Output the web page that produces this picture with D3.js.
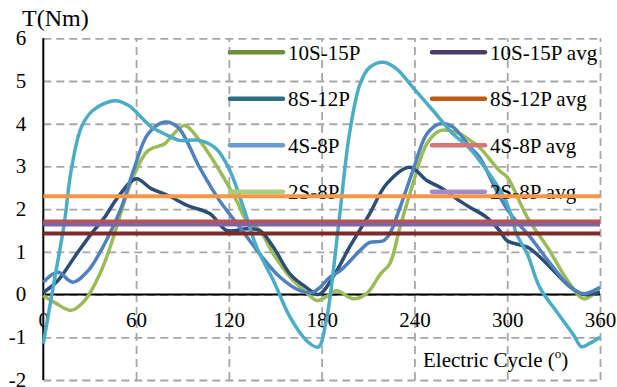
<!DOCTYPE html>
<html>
<head>
<meta charset="utf-8">
<script src="https://cdn.jsdelivr.net/npm/d3@7"></script>
<style>
  body { margin: 0; background: #fff; }
</style>
</head>
<body>
<svg id="chart" width="617" height="387" font-family="Liberation Serif" font-size="21"></svg>
<script>
// torque curves, [electric angle (deg), torque (Nm)]
var cyanCurve = [[0,-1.15],[7,0.3],[13.5,1.65],[18,2.9],[24.6,3.92],[32,4.31],[46,4.54],[55,4.43],[70,3.92],
  [78.5,3.76],[88,3.61],[101,3.61],[112,3.41],[120.7,2.9],[129.4,2.04],[138,1.11],[148.8,0.33],[159.6,-0.53],
  [170.3,-1.08],[177.8,-1.23],[183,-0.61],[186,0.1],[192,1.97],[198,3.77],[204.8,4.93],[211,5.32],[220,5.44],
  [228.6,5.28],[239,4.85],[252,4.31],[265,3.76],[275,3.45],[287,2.9],[298,2.28],[303,1.81],[306,1.42],
  [313,0.95],[321,0.17],[332,-0.4],[343,-0.95],[348,-1.22],[353,-1.15],[360,-1.0]];
var blueCurve = [[0,0.29],[9.5,0.52],[19,0.29],[29,0.56],[41.8,1.34],[50.5,2.04],[59,2.98],[67.7,3.76],
  [78.5,4.04],[87,3.92],[101,2.98],[114,2.2],[127,1.58],[140,0.95],[153,0.41],[166,0.09],[174,0.05],[179,0.17],
  [185,0.4],[192,0.56],[204.8,1.03],[211,1.22],[220,1.26],[224,1.42],[230.7,2.04],[239,2.9],[248,3.76],
  [256.6,4.0],[265,3.92],[276,3.45],[282,3.22],[293,2.44],[302,1.89],[315,1.34],[328,0.72],[341,0.17],
  [349.6,0.02],[360,0.17]];
var greenCurve = [[0,-0.02],[8,-0.2],[18,-0.37],[26.7,-0.14],[37.5,0.56],[46,1.42],[52.6,2.2],[59,2.83],
  [67.7,3.37],[78.5,3.53],[84,3.75],[91.5,3.96],[101,3.61],[114,2.9],[125,2.2],[131.5,1.73],[140,1.5],
  [148.8,0.95],[159.6,0.41],[170,0.05],[177,-0.14],[183,-0.05],[189.7,0.09],[200.5,-0.1],[209,0.02],[218,0.48],
  [224,0.72],[230.7,1.58],[239,2.59],[248,3.53],[256.6,3.84],[267,3.8],[276,3.61],[282,3.45],[295,2.9],
  [300,2.75],[313,1.81],[326,1.11],[339,0.33],[349.6,-0.1],[359,0.09],[360,0.1]];
var navyCurve = [[0,0.05],[9.5,0.33],[20,0.87],[31,1.42],[39.7,1.81],[48.3,2.28],[60,2.71],[69.8,2.48],
  [80.6,2.32],[93.6,2.08],[107.8,1.89],[118.6,1.5],[131.5,1.54],[140,1.5],[148.8,1.11],[159.6,0.48],[170,0.17],
  [178,0.0],[188,0.45],[198,1.11],[211,1.89],[222,2.59],[237,2.98],[248,2.67],[256.6,2.51],[269,2.2],[276,2.04],
  [286.7,1.81],[295,1.5],[300,1.26],[313,1.11],[319,0.95],[330,0.56],[341,0.17],[350,0.0],[360,0.05]];

// average torque lines
var avgValues = [2.30, 1.71, 1.64, 1.43];
var avgColors = ["#f79646", "#c0504d", "#8064a2", "#7b2c2a"];

// legend
var legendLabels = ["10S-15P", "10S-15P avg", "8S-12P", "8S-12P avg", "4S-8P", "4S-8P avg", "2S-8P", "2S-8P avg"];
var legendColors = ["#6e8d3b", "#4a3b68", "#2f6f7f", "#bf5a10", "#6c9bd2", "#d57577", "#a9cf7c", "#a28bc6"];

var xTicks = [0, 60, 120, 180, 240, 300, 360];
var yTicks = [-2, -1, 0, 1, 2, 3, 4, 5, 6];

var svg = d3.select("#chart");
var x = d3.scaleLinear().domain([0, 360]).range([43.3, 600]);
var y = d3.scaleLinear().domain([-2, 6]).range([380, 38.3]);

// grid (dashed)
svg.append("g")
  .attr("transform", "translate(" + x(0) + ",0)")
  .call(d3.axisLeft(y).tickValues(yTicks).tickSize(-(x(360) - x(0))).tickFormat(""))
  .call(function(g) { g.select(".domain").remove(); })
  .selectAll("line").attr("stroke", "#a6a6a6").attr("stroke-width", 1.8).attr("stroke-dasharray", "8,5");
svg.append("g")
  .attr("transform", "translate(0," + y(-2) + ")")
  .call(d3.axisBottom(x).tickValues(xTicks.slice(1)).tickSize(-(y(-2) - y(6))).tickFormat(""))
  .call(function(g) { g.select(".domain").remove(); })
  .selectAll("line").attr("stroke", "#a6a6a6").attr("stroke-width", 1.8).attr("stroke-dasharray", "8,5");

// tick labels (plain hyphen for negatives, like the original)
var yLab = svg.append("g")
  .attr("transform", "translate(" + x(0) + ",0)")
  .call(d3.axisLeft(y).tickValues(yTicks).tickSize(0).tickPadding(17).tickFormat(function(d) { return String(d); }));
yLab.select(".domain").remove();
yLab.attr("font-size", null).attr("font-family", null);
yLab.selectAll("text").attr("dy", "0.3em");

var xLab = svg.append("g")
  .attr("transform", "translate(0," + y(0) + ")")
  .call(d3.axisBottom(x).tickValues(xTicks).tickSize(0).tickPadding(18).tickFormat(function(d) { return String(d); }));
xLab.select(".domain").remove();
xLab.attr("font-size", null).attr("font-family", null);

// axis lines
svg.append("line").attr("x1", x(0)).attr("x2", x(0)).attr("y1", y(6)).attr("y2", y(-2))
  .attr("stroke", "#000").attr("stroke-width", 2);
svg.append("line").attr("x1", x(0)).attr("x2", x(360)).attr("y1", y(0)).attr("y2", y(0))
  .attr("stroke", "#000").attr("stroke-width", 2);

// curves
var line = d3.line()
  .x(function(d) { return x(d[0]); })
  .y(function(d) { return y(d[1]); })
  .curve(d3.curveCatmullRom.alpha(0.5));

var curves = [
  { pts: greenCurve, color: "#9bbb59" },
  { pts: navyCurve, color: "#2c4d75" },
  { pts: blueCurve, color: "#4f81bd" },
  { pts: cyanCurve, color: "#4bacc6" }
];
curves.forEach(function(c) {
  svg.append("path").datum(c.pts)
    .attr("d", line)
    .attr("fill", "none")
    .attr("stroke", c.color)
    .attr("stroke-width", 3.5)
    .attr("stroke-linejoin", "round");
});

// legend (avg lines are drawn over it)
var legRowY = function(i) { return 52.3 + i * 46.5; };
legendLabels.forEach(function(lbl, i) {
  var col = i % 2, row = Math.floor(i / 2);
  var lx = col === 0 ? 230 : 432;
  svg.append("line")
    .attr("x1", lx).attr("x2", lx + 53)
    .attr("y1", legRowY(row)).attr("y2", legRowY(row))
    .attr("stroke", legendColors[i]).attr("stroke-width", 4.5).attr("stroke-linecap", "round");
  svg.append("text")
    .attr("x", lx + 58).attr("y", legRowY(row) + 7.5)
    .text(lbl);
});

// avg lines
avgValues.forEach(function(v, i) {
  svg.append("line")
    .attr("x1", x(0)).attr("x2", x(360))
    .attr("y1", y(v)).attr("y2", y(v))
    .attr("stroke", avgColors[i]).attr("stroke-width", 4);
});

// axis titles
svg.append("text").attr("x", 22).attr("y", 26).attr("font-size", 24).text("T(Nm)");
var xt = svg.append("text").attr("x", 423).attr("y", 367);
xt.append("tspan").text("Electric Cycle (");
xt.append("tspan").attr("font-size", 13).attr("dy", -9).text("o");
xt.append("tspan").attr("dy", 9).text(")");
</script>
</body>
</html>
